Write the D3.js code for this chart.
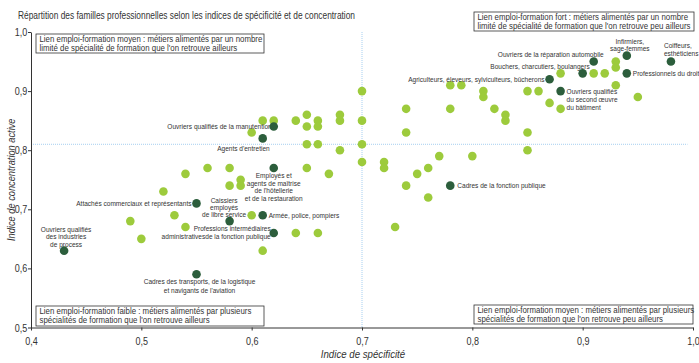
<!DOCTYPE html>
<html>
<head>
<meta charset="utf-8">
<script src="https://cdn.jsdelivr.net/npm/d3@7"></script>
<style>
  body { margin: 0; background: #fff; }
  text { font-family: "Liberation Sans", Arial, sans-serif; fill: #333; }
</style>
</head>
<body>
<script>
// familles sans étiquette (vert clair)
var specLight = [0.70, 0.70, 0.70, 0.70, 0.65, 0.68, 0.61, 0.62, 0.64, 0.66, 0.68, 0.65, 0.66, 0.60,
  0.65, 0.66, 0.68, 0.65, 0.67, 0.56, 0.58, 0.54, 0.59, 0.59, 0.58, 0.52, 0.53, 0.60, 0.49, 0.54,
  0.64, 0.66, 0.50, 0.61, 0.78, 0.79, 0.81, 0.81, 0.85, 0.86, 0.87, 0.88, 0.74, 0.78, 0.82, 0.83,
  0.83, 0.74, 0.85, 0.85, 0.72, 0.72, 0.77, 0.80, 0.76, 0.75, 0.74, 0.76, 0.73, 0.88, 0.91, 0.92,
  0.93, 0.93, 0.93, 0.95];
var concLight = [0.90, 0.85, 0.81, 0.78, 0.86, 0.86, 0.85, 0.85, 0.85, 0.85, 0.85, 0.84, 0.84, 0.83,
  0.81, 0.81, 0.80, 0.77, 0.76, 0.77, 0.77, 0.76, 0.75, 0.74, 0.74, 0.73, 0.69, 0.69, 0.68, 0.67,
  0.66, 0.66, 0.65, 0.63, 0.91, 0.91, 0.90, 0.89, 0.90, 0.90, 0.88, 0.87, 0.87, 0.87, 0.87, 0.86,
  0.85, 0.83, 0.83, 0.80, 0.78, 0.77, 0.79, 0.79, 0.77, 0.76, 0.74, 0.72, 0.67, 0.93, 0.93, 0.93,
  0.95, 0.94, 0.91, 0.89];

// familles commentées (vert foncé)
var names = [
  ["Ouvriers de la réparation automobile"],
  ["Infirmiers,", "sage-femmes"],
  ["Coiffeurs,", "esthéticiens"],
  ["Professionnels du droit"],
  ["Bouchers, charcutiers, boulangers"],
  ["Agriculteurs, éleveurs, sylviculteurs, bûcherons"],
  ["Ouvriers qualifiés", "du second œuvre", "du bâtiment"],
  ["Cadres de la fonction publique"],
  ["Ouvriers qualifiés de la manutention"],
  ["Agents d'entretien"],
  ["Employés et", "agents de maîtrise", "de l'hôtellerie", "et de la restauration"],
  ["Attachés commerciaux et représentants"],
  ["Caissiers", "employés", "de libre service"],
  ["Armée, police, pompiers"],
  ["Professions intermédiaires", "administrativesde la fonction publique"],
  ["Ouvriers qualifiés", "des industries", "de process"],
  ["Cadres des transports, de la logistique", "et navigants de l'aviation"]
];
var specDark = [0.91, 0.94, 0.98, 0.94, 0.90, 0.87, 0.88, 0.78, 0.62, 0.61, 0.62, 0.55, 0.58, 0.61, 0.62, 0.43, 0.55];
var concDark = [0.95, 0.96, 0.95, 0.93, 0.93, 0.92, 0.90, 0.74, 0.84, 0.82, 0.77, 0.71, 0.68, 0.69, 0.66, 0.63, 0.59];

var xTicks = [0.4, 0.5, 0.6, 0.7, 0.8, 0.9, 1.0];
var yTicks = [0.5, 0.6, 0.7, 0.8, 0.9, 1.0];

var title = "Répartition des familles professionnelles selon les indices de spécificité et de concentration";
var boxes = [
  ["Lien emploi-formation moyen : métiers alimentés par un nombre", "limité de spécialité de formation que l'on retrouve ailleurs"],
  ["Lien emploi-formation fort : métiers alimentés par un nombre", "limité de spécialité de formation que l'on retrouve peu ailleurs"],
  ["Lien emploi-formation faible : métiers alimentés par plusieurs", "spécialités de formation que l'on retrouve ailleurs"],
  ["Lien emploi-formation moyen : métiers alimentés par plusieurs", "spécialités de formation que l'on retrouve peu ailleurs"]
];

// placement des étiquettes : ancre, décalage x, décalage y de la 1re ligne, interligne
var labelPos = [
  ["end", 10, -5, 8], ["middle", 3, -12, 7.7], ["start", -7, -13.5, 7.7], ["start", 6, 2.7, 8],
  ["end", 7, -4, 8], ["end", -5, 2.7, 8], ["start", 6, 2.7, 8], ["start", 7, 2.7, 8],
  ["end", -2, 2.7, 8], ["end", 7, 13, 8], ["middle", 0, 10.5, 7.5], ["end", -5, 2.7, 8],
  ["middle", -5.5, -18.5, 7.4], ["start", 6, 2.7, 8], ["end", -3, -2, 7.8], ["middle", 2, -19, 7.5],
  ["middle", 3, 10, 8.3]
];
var boxPos = [[5, 2, 228, 19], [443, -20, 220, 19], [5, 274, 228, 20], [443, 273, 219, 19]];

var SX = 0.82; // police étroite simulée

var margin = {top: 32, right: 6, bottom: 35, left: 31},
    width = 699 - margin.left - margin.right,
    height = 363 - margin.top - margin.bottom - 0.5;

var svg = d3.select("body").append("svg")
    .attr("width", 699)
    .attr("height", 363);

// texte condensé : groupe translaté puis compressé horizontalement
function narrowText(parent, px, py, lines, lh, anchor, size) {
  var t = parent.append("g")
      .attr("transform", "translate(" + px + "," + py + ") scale(" + SX + ",1)")
    .append("text")
      .attr("text-anchor", anchor)
      .style("font-size", size + "px");
  lines.forEach(function(line, j) {
    t.append("tspan").attr("x", 0).attr("y", j * lh).text(line);
  });
  return t;
}

narrowText(svg, 18, 19, [title], 0, "start", 10.2);

var g = svg.append("g")
    .attr("transform", "translate(" + margin.left + "," + margin.top + ")");

var x = d3.scaleLinear().domain([0.4, 1.0]).range([0, width]);
var y = d3.scaleLinear().domain([0.5, 1.0]).range([height, 0]);
var fmt = function(d) { return d3.format(".1f")(d).replace(".", ","); };

// lignes de repère
g.append("line")
    .attr("x1", x(0.7)).attr("x2", x(0.7))
    .attr("y1", y(1.0)).attr("y2", y(0.5))
    .attr("stroke", "#a6cff0").attr("stroke-dasharray", "1,1");
g.append("line")
    .attr("x1", x(0.4)).attr("x2", x(0.995))
    .attr("y1", y(0.81)).attr("y2", y(0.81))
    .attr("stroke", "#a6cff0").attr("stroke-dasharray", "1,1");

// axes
var xAxis = g.append("g")
    .attr("transform", "translate(0," + height + ")")
    .call(d3.axisBottom(x).tickValues(xTicks).tickFormat(fmt).tickSize(3).tickSizeOuter(0).tickPadding(7));
var yAxis = g.append("g")
    .call(d3.axisLeft(y).tickValues(yTicks).tickFormat(fmt).tickSize(3).tickSizeOuter(0).tickPadding(1.5));
[xAxis, yAxis].forEach(function(a) {
  a.selectAll("path, line").attr("stroke", "#333");
  a.selectAll("text").style("font-size", "11px").attr("fill", "#333")
    .style("font-family", "\"Liberation Sans\", Arial, sans-serif")
    .attr("transform", "scale(" + SX + ",1)");
});

narrowText(svg, 363, 357.5, ["Indice de spécificité"], 0, "middle", 11.8)
    .style("font-style", "italic");
svg.append("g")
    .attr("transform", "translate(15," + (margin.top + height / 2) + ") rotate(-90) scale(" + SX + ",1)")
  .append("text")
    .attr("text-anchor", "middle")
    .style("font-size", "11.3px").style("font-style", "italic")
    .text("Indice de concentration active");

// points clairs
var light = specLight.map(function(d, i) { return {x: d, y: concLight[i]}; });
g.selectAll(".light")
    .data(light)
  .enter().append("circle")
    .attr("class", "light")
    .attr("cx", function(d) { return x(d.x); })
    .attr("cy", function(d) { return y(d.y); })
    .attr("r", 4.3)
    .attr("fill", "#9dcb3c");

// cadres de commentaire
boxPos.forEach(function(b, i) {
  var bg = g.append("g").attr("transform", "translate(" + b[0] + "," + b[1] + ")");
  bg.append("rect")
      .attr("width", b[2]).attr("height", b[3])
      .attr("fill", "#fff").attr("stroke", "#333").attr("stroke-width", 0.8);
  narrowText(bg, 3.5, 8, boxes[i], 9, "start", 9.6);
});

// étiquettes puis points foncés
var dark = specDark.map(function(d, i) { return {x: d, y: concDark[i], name: names[i], pos: labelPos[i]}; });
dark.forEach(function(d) {
  narrowText(g, x(d.x) + d.pos[1], y(d.y) + d.pos[2], d.name, d.pos[3], d.pos[0], 8);
});
g.selectAll(".dark")
    .data(dark)
  .enter().append("circle")
    .attr("class", "dark")
    .attr("cx", function(d) { return x(d.x); })
    .attr("cy", function(d) { return y(d.y); })
    .attr("r", 4.3)
    .attr("fill", "#2c5e3c");
</script>
</body>
</html>
